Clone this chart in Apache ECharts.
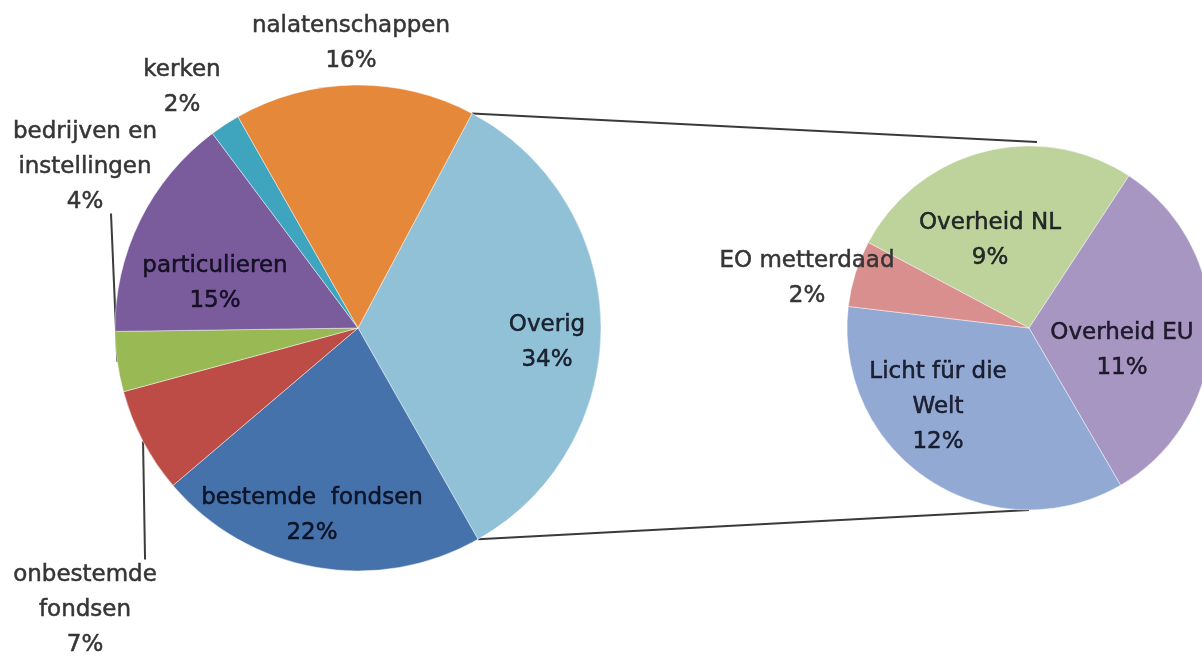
<!DOCTYPE html>
<html>
<head>
<meta charset="utf-8">
<script src="https://cdn.jsdelivr.net/npm/echarts@6/dist/echarts.min.js"></script>
<style>
html,body{margin:0;padding:0;background:#fff;}
#chart{width:1202px;height:656px;}
</style>
</head>
<body>
<div id="chart"></div>
<script>
// ---- data ----
const mainCategories = ['Overig', 'bestemde  fondsen', 'onbestemde\nfondsen', 'bedrijven en\ninstellingen', 'particulieren', 'kerken', 'nalatenschappen'];
const mainValues = [34, 22, 7, 4, 15, 2, 16];
const subCategories = ['Overheid NL', 'Overheid EU', 'Licht für die\nWelt', 'EO metterdaad'];
const subValues = [9, 11, 12, 2];

// ---- styles / layout ----
const mainColors = ['#91C1D7', '#4672AB', '#BD4B46', '#98B954', '#7A5B9C', '#3FA4BE', '#E5883A'];
const subColors = ['#BDD39B', '#A796C1', '#92A9D3', '#D98F8E'];
const mainOutside = [false, false, true, true, false, true, true];
const subOutside = [false, false, false, true];
const mainLeader = [false, false, true, true, false, false, false];
const mainLabelPos = [[547, 343], [312, 516], [85, 610], [85, 167], [215, 284], [182, 88], [351, 44]];
const subLabelPos = [[990, 241], [1122, 351], [938, 407], [807, 279]];
const mainCenter = [358, 328], mainR = 243, mainStart = 62;
const subCenter = [1029, 328], subR = 182, subStart = 152;

const FONT = 'DejaVu Sans';
const FS = 23, LH = 35;

function sum(a){ return a.reduce((s, v) => s + v, 0); }
function ptOnPie(center, r, angDeg){
  const a = angDeg * Math.PI / 180;
  return [center[0] + r * Math.cos(a), center[1] - r * Math.sin(a)];
}
function midAngle(values, start, idx){
  const tot = sum(values);
  let acc = 0;
  for (let i = 0; i < idx; i++) acc += values[i];
  return start - 360 * (acc + values[idx] / 2) / tot;
}

const mainTotal = sum(mainValues);
const overigStart = mainStart;
const overigEnd = mainStart - 360 * mainValues[0] / mainTotal;
const pTop = ptOnPie(mainCenter, mainR, overigStart);
const pBot = ptOnPie(mainCenter, mainR, overigEnd);

const OUT_TEXT = '#353535';
const IN_TEXT = 'rgba(0,0,12,0.8)';

function makeData(cats, vals, colors, outside){
  return cats.map((c, i) => ({
    name: c,
    value: vals[i],
    itemStyle: { color: colors[i] },
    label: {
      position: outside[i] ? 'outside' : 'inside',
      color: outside[i] ? OUT_TEXT : IN_TEXT,
      textBorderColor: outside[i] ? OUT_TEXT : IN_TEXT,
      textBorderWidth: 0.5
    }
  }));
}

const mainData = makeData(mainCategories, mainValues, mainColors, mainOutside);
mainData.forEach((d, i) => { d.labelLine = { show: mainLeader[i] }; });
const subData = makeData(subCategories, subValues, subColors, subOutside);
subData.forEach((d) => { d.labelLine = { show: false }; });

const labelCommon = {
  formatter: '{b}\n{c}%',
  fontFamily: FONT,
  fontSize: FS,
  lineHeight: LH,
  align: 'center'
};

const chart = echarts.init(document.getElementById('chart'), null, { renderer: 'canvas' });
chart.setOption({
  animation: false,
  backgroundColor: '#ffffff',
  graphic: [
    { type: 'line', z: 0, shape: { x1: pTop[0], y1: pTop[1], x2: subCenter[0] + 8, y2: subCenter[1] - subR - 4 },
      style: { stroke: '#3a3a3a', lineWidth: 2 } },
    { type: 'line', z: 0, shape: { x1: pBot[0], y1: pBot[1], x2: subCenter[0], y2: subCenter[1] + subR },
      style: { stroke: '#3a3a3a', lineWidth: 2 } }
  ],
  series: [
    {
      type: 'pie',
      center: mainCenter,
      radius: mainR,
      startAngle: mainStart,
      clockwise: true,
      avoidLabelOverlap: false,
      itemStyle: { borderColor: 'rgba(255,255,255,0.45)', borderWidth: 1 },
      label: labelCommon,
      labelLine: { lineStyle: { color: '#3c3c3c', width: 2 } },
      emphasis: { disabled: true },
      data: mainData,
      labelLayout: function (p) {
        const i = p.dataIndex;
        const pos = mainLabelPos[i];
        const out = { x: pos[0], y: pos[1], align: 'center', verticalAlign: 'middle' };
        if (mainLeader[i]) {
          const a = ptOnPie(mainCenter, mainR, midAngle(mainValues, mainStart, i));
          const lines = mainCategories[i].split('\n').length + 1;
          const half = lines * LH / 2;
          const above = pos[1] > a[1];
          const endY = above ? pos[1] - half + 2 : pos[1] + half - 6;
          const endX = above ? a[0] + 2 : pos[0] + 26;
          out.labelLinePoints = [a, [ (a[0] + endX) / 2, (a[1] + endY) / 2 ], [endX, endY]];
        }
        return out;
      }
    },
    {
      type: 'pie',
      center: subCenter,
      radius: subR,
      startAngle: subStart,
      clockwise: true,
      avoidLabelOverlap: false,
      itemStyle: { borderColor: 'rgba(255,255,255,0.45)', borderWidth: 1 },
      label: labelCommon,
      emphasis: { disabled: true },
      data: subData,
      labelLayout: function (p) {
        const pos = subLabelPos[p.dataIndex];
        return { x: pos[0], y: pos[1], align: 'center', verticalAlign: 'middle' };
      }
    }
  ]
});
</script>
</body>
</html>
